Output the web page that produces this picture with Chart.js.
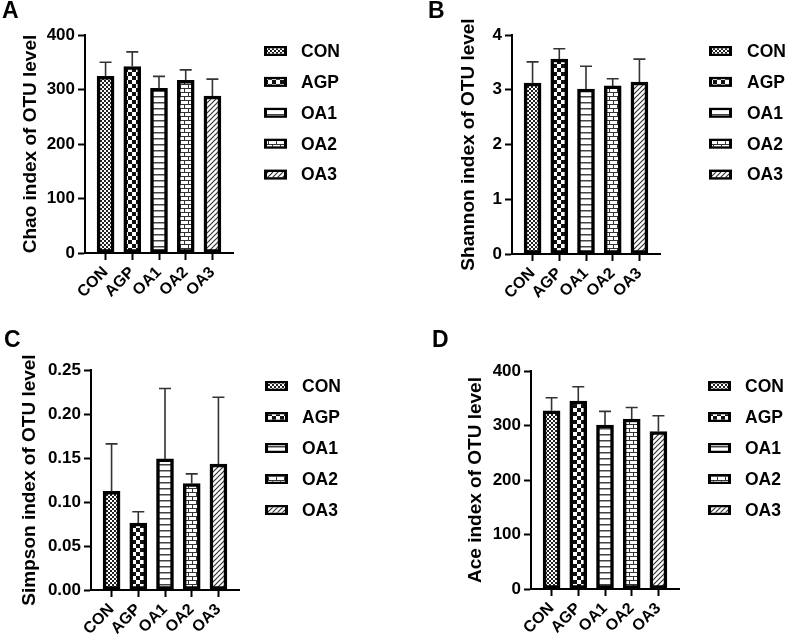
<!DOCTYPE html>
<html><head><meta charset="utf-8">
<script src="https://cdn.jsdelivr.net/npm/chart.js@4.4.1/dist/chart.umd.min.js"></script>
<style>
html,body{margin:0;padding:0;background:#fff;}
#wrap{position:relative;width:786px;height:640px;overflow:hidden;}
canvas{position:absolute;}
</style></head><body>
<div id="wrap">
<canvas id="cA" width="393" height="320" style="left:0;top:0"></canvas>
<canvas id="cB" width="393" height="320" style="left:393px;top:0"></canvas>
<canvas id="cC" width="393" height="320" style="left:0;top:320px"></canvas>
<canvas id="cD" width="393" height="320" style="left:393px;top:320px"></canvas>
</div>
<script>
// ---- data ----
const categories = ['CON', 'AGP', 'OA1', 'OA2', 'OA3'];
const chaoMean = [324, 342, 302, 317, 288];
const chaoErr  = [26, 27, 22, 19, 31];
const shannonMean = [3.12, 3.56, 3.01, 3.07, 3.14];
const shannonErr  = [0.39, 0.19, 0.42, 0.13, 0.42];
const simpsonMean = [0.112, 0.076, 0.149, 0.121, 0.143];
const simpsonErr  = [0.054, 0.013, 0.080, 0.011, 0.076];
const aceMean = [327, 345, 301, 312, 289];
const aceErr  = [24, 26, 25, 21, 29];
const countTicks = [0, 100, 200, 300, 400];
const shannonTicks = [0, 1, 2, 3, 4];
const simpsonTicks = [0, 0.05, 0.10, 0.15, 0.20, 0.25];

const FONT = "'Liberation Sans', Arial, Helvetica, sans-serif";
Chart.defaults.font.family = FONT;
Chart.defaults.font.weight = 'bold';
Chart.defaults.color = '#000';

function makePattern(kind) {
  const c = document.createElement('canvas');
  const g = c.getContext('2d');
  let w = 4, h = 4;
  if (kind === 'bigCheck') { w = h = 8; }
  if (kind === 'hlines') { w = 4; h = 6; }
  if (kind === 'brick') { w = 8; h = 8; }
  if (kind === 'diag') { w = h = 5; }
  c.width = w; c.height = h;
  g.fillStyle = '#fff'; g.fillRect(0, 0, w, h);
  g.fillStyle = '#111'; g.strokeStyle = '#111';
  if (kind === 'fineCheck') {
    g.fillStyle = '#222';
    g.fillRect(0, 0, 2, 2); g.fillRect(2, 2, 2, 2);
  } else if (kind === 'bigCheck') {
    g.fillRect(0, 0, 4, 4); g.fillRect(4, 4, 4, 4);
  } else if (kind === 'hlines') {
    g.fillStyle = '#444';
    g.fillRect(0, 0, w, 1.5);
  } else if (kind === 'brick') {
    g.fillStyle = '#333';
    g.fillRect(0, 0, 8, 1); g.fillRect(0, 4, 8, 1);
    g.fillRect(0, 0, 1, 4); g.fillRect(4, 4, 1, 4);
  } else if (kind === 'diag') {
    g.lineWidth = 1.2; g.strokeStyle = '#333';
    g.beginPath();
    g.moveTo(-1, h + 1); g.lineTo(w + 1, -1);
    g.moveTo(-1, 1); g.lineTo(1, -1);
    g.moveTo(w - 1, h + 1); g.lineTo(w + 1, h - 1);
    g.stroke();
  }
  return g.createPattern(c, 'repeat');
}
const patterns = ['fineCheck', 'bigCheck', 'hlines', 'brick', 'diag'].map(makePattern);

const errorBarPlugin = {
  id: 'errbars',
  afterDatasetsDraw(chart, args, opts) {
    const ctx = chart.ctx, ys = chart.scales.y;
    ctx.save();
    ctx.strokeStyle = '#333';
    ctx.lineWidth = 1.6;
    chart.data.datasets.forEach((ds, i) => {
      const el = chart.getDatasetMeta(i).data[0];
      const v = ds.data[0].y, e = opts.errors[i];
      const yTop = ys.getPixelForValue(v + e);
      ctx.beginPath();
      ctx.moveTo(el.x, el.y); ctx.lineTo(el.x, yTop);
      ctx.moveTo(el.x - 6, yTop); ctx.lineTo(el.x + 6, yTop);
      ctx.stroke();
    });
    ctx.restore();
  }
};

const decorPlugin = {
  id: 'decor',
  afterDraw(chart, args, o) {
    const ctx = chart.ctx;
    ctx.save();
    ctx.fillStyle = '#000';
    ctx.textAlign = 'left';
    ctx.textBaseline = 'alphabetic';
    ctx.font = 'bold 23px ' + FONT;
    ctx.fillText(o.letter, o.letterX, o.letterY);
    ctx.font = 'bold 17.5px ' + FONT;
    ctx.textBaseline = 'middle';
    chart.data.datasets.forEach((ds, i) => {
      const y = o.legendTop + i * o.legendStep;
      const bx = o.boxX;
      ctx.fillStyle = '#000'; ctx.fillRect(bx, y - 5, 23, 10);
      ctx.fillStyle = '#fff'; ctx.fillRect(bx + 3, y - 2.5, 17, 5);
      ctx.fillStyle = ds.backgroundColor; ctx.fillRect(bx + 3, y - 2.5, 17, 5);
      ctx.fillStyle = '#000'; ctx.fillText(ds.label, o.textX, y + 1);
    });
    ctx.restore();
  }
};

function makeChart(id, cfg) {
  const datasets = categories.map((c, i) => ({
    label: c,
    data: [{x: i, y: cfg.mean[i]}],
    backgroundColor: patterns[i],
    borderColor: '#000',
    borderWidth: 3.5,
    borderSkipped: false,
    barThickness: 17,
    grouped: false
  }));
  const gridOpts = {drawOnChartArea: false, drawTicks: true, tickLength: 7, tickWidth: 2, tickColor: '#000', offset: false, color: '#000'};
  const borderOpts = {display: true, color: '#000', width: 2};
  new Chart(document.getElementById(id), {
    type: 'bar',
    data: {datasets},
    options: {
      responsive: false, animation: false, devicePixelRatio: 1,
      layout: {padding: {left: 0, top: cfg.top, right: 393 - cfg.right, bottom: 0}},
      plugins: {
        legend: {display: false}, tooltip: {enabled: false},
        errbars: {errors: cfg.err},
        decor: cfg.decor
      },
      scales: {
        x: {
          type: 'linear', min: -0.77, max: 4.77, offset: false,
          afterBuildTicks: s => { s.ticks = categories.map((c, i) => ({value: i})); },
          afterFit: s => { s.height = 320 - cfg.bottom; },
          ticks: {callback: v => categories[v], autoSkip: false, maxRotation: 45, minRotation: 45, padding: 3, color: '#000', font: {size: 16, weight: 'bold'}},
          grid: gridOpts, border: borderOpts
        },
        y: {
          min: 0, max: cfg.max,
          afterBuildTicks: s => { s.ticks = cfg.ticks.map(v => ({value: v})); },
          afterFit: s => { s.width = cfg.axisX; },
          ticks: {callback: cfg.fmt, padding: 3, color: '#000', font: {size: 17, weight: 'bold'}},
          grid: gridOpts, border: borderOpts,
          title: {display: true, text: cfg.ylabel, color: '#000', font: {size: 19, weight: 'bold'}, padding: {top: cfg.labelX - 11.4, bottom: 0}}
        }
      }
    },
    plugins: [errorBarPlugin, decorPlugin]
  });
}

const intFmt = v => String(v);
const dec2 = v => Number(v).toFixed(2);

makeChart('cA', {mean: chaoMean, err: chaoErr, max: 400, ticks: countTicks, fmt: intFmt,
  ylabel: 'Chao index of OTU level', axisX: 85, top: 35, bottom: 253, right: 233, labelX: 31,
  decor: {letter: 'A', letterX: 2, letterY: 18, boxX: 264, textX: 301, legendTop: 51, legendStep: 30.9}});
makeChart('cB', {mean: shannonMean, err: shannonErr, max: 4, ticks: shannonTicks, fmt: intFmt,
  ylabel: 'Shannon index of OTU level', axisX: 119, top: 35, bottom: 254, right: 267, labelX: 76,
  decor: {letter: 'B', letterX: 35, letterY: 18, boxX: 316, textX: 354, legendTop: 51, legendStep: 30.9}});
makeChart('cC', {mean: simpsonMean, err: simpsonErr, max: 0.25, ticks: simpsonTicks, fmt: dec2,
  ylabel: 'Simpson index of OTU level', axisX: 91, top: 50, bottom: 270, right: 239, labelX: 30,
  decor: {letter: 'C', letterX: 4, letterY: 27, boxX: 265, textX: 302, legendTop: 66, legendStep: 31}});
makeChart('cD', {mean: aceMean, err: aceErr, max: 400, ticks: countTicks, fmt: intFmt,
  ylabel: 'Ace index of OTU level', axisX: 138, top: 51, bottom: 269, right: 286, labelX: 83,
  decor: {letter: 'D', letterX: 39, letterY: 27, boxX: 315, textX: 352, legendTop: 66, legendStep: 31}});
</script>
</body></html>
